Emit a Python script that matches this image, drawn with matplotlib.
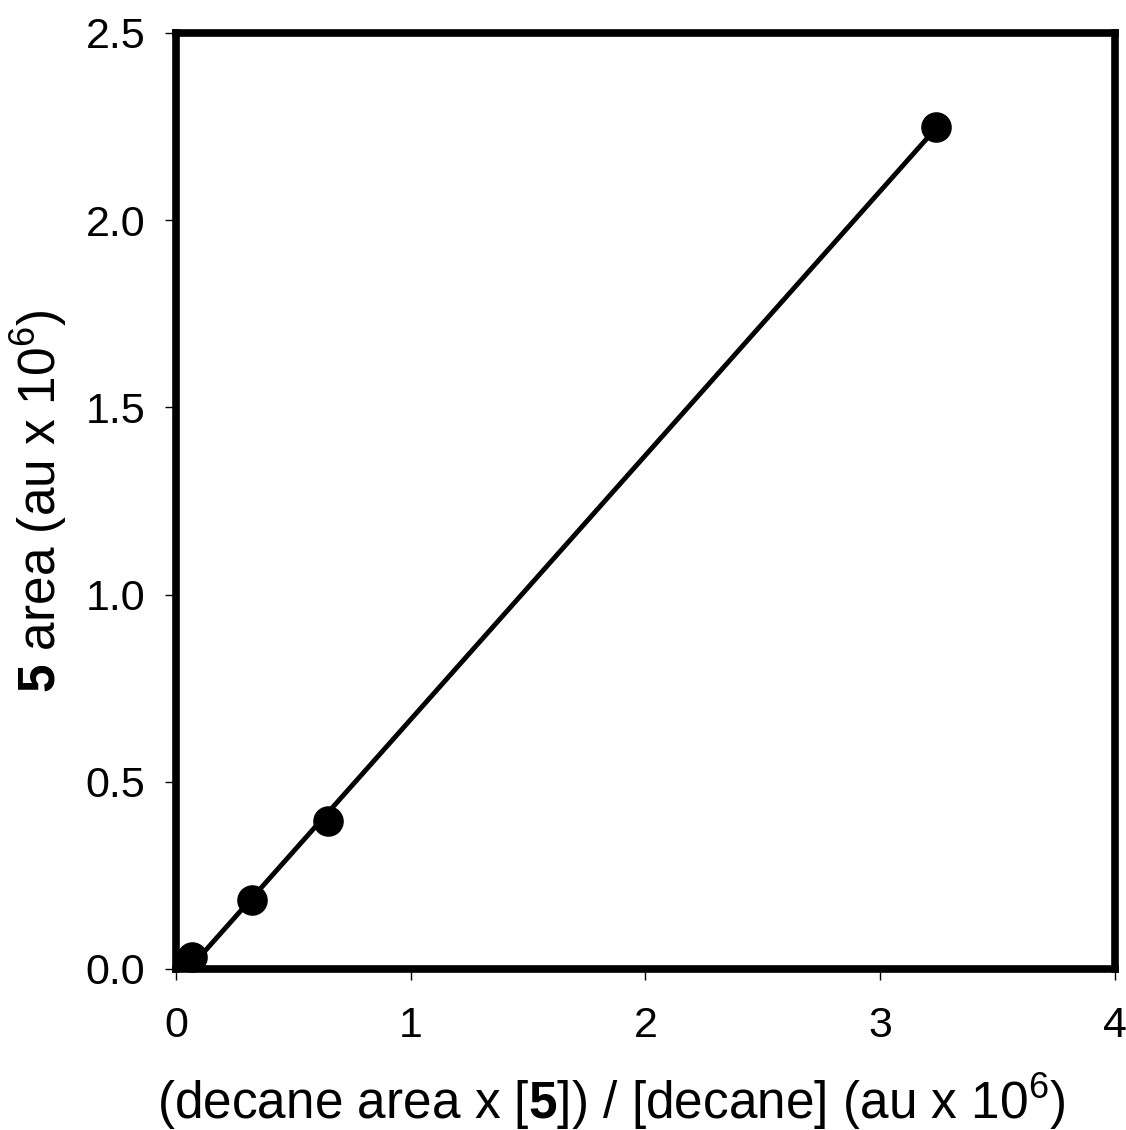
import numpy as np
import matplotlib
matplotlib.use("Agg")
from matplotlib import pyplot as plt

# --- data --------------------------------------------------
x_vals = [0.068, 0.324, 0.647, 3.237]
y_vals = [0.032, 0.184, 0.395, 2.249]

x_ticks = [0, 1, 2, 3, 4]
y_ticks = [0.0, 0.5, 1.0, 1.5, 2.0, 2.5]

plt.rcParams["font.family"] = ["Liberation Sans", "DejaVu Sans"]
plt.rcParams["mathtext.fontset"] = "custom"
plt.rcParams["mathtext.rm"] = "Liberation Sans"
plt.rcParams["mathtext.it"] = "Liberation Sans:italic"
plt.rcParams["mathtext.bf"] = "Liberation Sans:bold"

fig = plt.figure(figsize=(11.26, 11.30), dpi=100)
ax = fig.add_axes([0.1563, 0.1425, 0.990 - 0.1563, 0.9708 - 0.1425])

# linear fit over the data range
slope, icpt = np.polyfit(x_vals, y_vals, 1)
xf = np.array([min(x_vals), max(x_vals)])
ax.plot(xf, slope * xf + icpt, color="black", lw=3.5, zorder=2)
ax.plot(x_vals, y_vals, "o", color="black", ms=21, zorder=3, clip_on=False)

ax.set_xlim(0, 4)
ax.set_ylim(0, 2.5)
ax.set_xticks(x_ticks)
ax.set_yticks(y_ticks)
ax.set_xticklabels([str(t) for t in x_ticks])
ax.set_yticklabels([f"{t:.1f}" for t in y_ticks])
ax.tick_params(axis="both", direction="out", length=8, width=1, labelsize=31)
ax.tick_params(axis="x", pad=19)
ax.tick_params(axis="y", pad=14)

for s in ax.spines.values():
    s.set_linewidth(5.5)

ax.set_xlabel(r"(decane area x [$\mathbf{5}$]) / [decane] (au x 10$^6$)", fontsize=37, labelpad=18)
ax.xaxis.label.set_x(0.464)
ax.set_ylabel(r"$\mathbf{5}$ area (au x 10$^6$)", fontsize=37, labelpad=12)

fig.savefig("out.png", dpi=100)
